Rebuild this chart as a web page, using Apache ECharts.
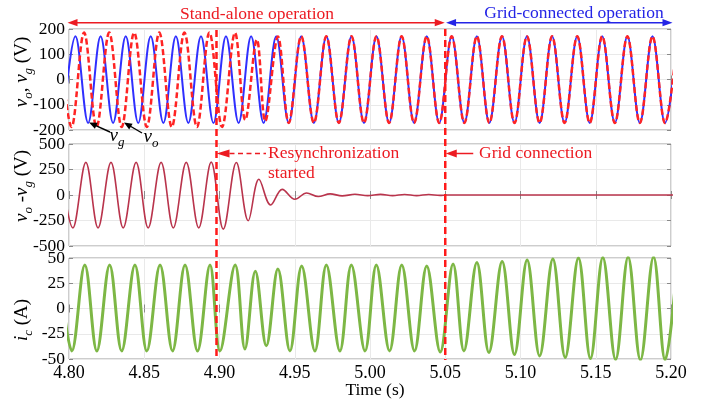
<!DOCTYPE html>
<html>
<head>
<meta charset="utf-8">
<script src="https://cdn.jsdelivr.net/npm/echarts@6/dist/echarts.min.js"></script>
<style>
  html, body { margin: 0; padding: 0; background: #fff; }
  #chart { width: 724px; height: 403px; }
</style>
</head>
<body>
<div id="chart"></div>
<script>
// time axis (s)
const timeMin = 4.80
const timeMax = 5.20
const timeStep = 0.05

// y ranges: [min, max, interval]
const vRange = [-200, 200, 100]
const dvRange = [-500, 500, 250]
const icRange = [-50, 50, 25]

// events
const resyncTime = 4.898
const gridTime = 5.05

// v_g (blue) peaks / troughs
const vgTime = [4.7960, 4.8043, 4.8127, 4.8210, 4.8293, 4.8377, 4.8460, 4.8543, 4.8627, 4.8710,
  4.8793, 4.8877, 4.8960, 4.9043, 4.9127, 4.9210, 4.9293, 4.9377, 4.9460, 4.9543,
  4.9627, 4.9710, 4.9793, 4.9877, 4.9960, 5.0043, 5.0127, 5.0210, 5.0293, 5.0377,
  5.0460, 5.0543, 5.0627, 5.0710, 5.0793, 5.0877, 5.0960, 5.1043, 5.1127, 5.1210,
  5.1293, 5.1377, 5.1460, 5.1543, 5.1627, 5.1710, 5.1793, 5.1877, 5.1960, 5.2043]
const vgVal = [-172, 171, -172, 171, -172, 171, -172, 171, -172, 171,
  -172, 171, -172, 171, -172, 171, -172, 171, -172, 171,
  -172, 171, -172, 171, -172, 171, -172, 171, -172, 171,
  -172, 171, -172, 171, -172, 171, -172, 171, -172, 171,
  -172, 171, -172, 171, -172, 171, -172, 171, -172, 171]

// v_o (red dashed)
const voTime = [4.7933, 4.8017, 4.8100, 4.8183, 4.8267, 4.8350, 4.8433, 4.8517, 4.8600, 4.8683,
  4.8767, 4.8850, 4.8933, 4.9017, 4.9103, 4.9171, 4.9248, 4.9304, 4.9388, 4.9460,
  4.9543, 4.9627, 4.9710, 4.9793, 4.9877, 4.9960, 5.0043, 5.0127, 5.0210, 5.0293,
  5.0377, 5.0460, 5.0543, 5.0627, 5.0710, 5.0793, 5.0877, 5.0960, 5.1043, 5.1127,
  5.1210, 5.1293, 5.1377, 5.1460, 5.1543, 5.1627, 5.1710, 5.1793, 5.1877, 5.1960, 5.2043]
const voVal = [186, -188, 186, -188, 186, -188, 186, -188, 186, -188,
  186, -188, 186, -188, 185, -160, 158, -165, 170, -172,
  171, -172, 171, -172, 171, -172, 171, -172, 171, -172,
  171, -172, 171, -172, 171, -172, 171, -172, 171, -172,
  171, -172, 171, -172, 171, -172, 171, -172, 171, -172, 171]

// v_o - v_g
const dvTime = [4.7942, 4.8026, 4.8112, 4.8193, 4.8279, 4.8360, 4.8446, 4.8526, 4.8612, 4.8693,
  4.8779, 4.8862, 4.8945, 4.9025, 4.9112, 4.9191, 4.9262, 4.9340, 4.9417, 4.9501,
  4.9579, 4.9656, 4.9735, 4.9815, 4.9900, 4.9985, 5.0070, 5.0150, 5.0230, 5.0310,
  5.0390, 5.0465, 5.0510, 5.2100]
const dvVal = [320, -322, 320, -322, 320, -322, 320, -322, 320, -322,
  320, -322, 322, -335, 318, -252, 154, -98, 55, -42,
  20, -15, 11, -9, 7, -6, 6, -6, 5, -6,
  5, -4, 0, 0]

// i_c
const icTime = [4.7934, 4.8019, 4.8105, 4.8185, 4.8270, 4.8350, 4.8438, 4.8517, 4.8605, 4.8688,
  4.8771, 4.8854, 4.8937, 4.9003, 4.9104, 4.9169, 4.9238, 4.9311, 4.9388, 4.9468,
  4.9546, 4.9634, 4.9710, 4.9800, 4.9876, 4.9967, 5.0042, 5.0130, 5.0211, 5.0296,
  5.0377, 5.0467, 5.0552, 5.0624, 5.0710, 5.0790, 5.0878, 5.0960, 5.1044, 5.1127,
  5.1215, 5.1297, 5.1385, 5.1465, 5.1547, 5.1632, 5.1715, 5.1797, 5.1884, 5.1961, 5.2044]
const icVal = [43, -42, 43, -42, 43, -42, 43, -42, 43, -42,
  43, -42, 43, -42, 43, -40, 37, -37, 39, -42,
  42, -42, 43, -42, 43, -42, 43, -42, 43, -42,
  42, -43, 44, -42, 45.5, -43.5, 46.5, -45.5, 48, -47,
  49, -48.5, 50, -49.5, 50.5, -50.5, 51, -51, 51, -51, 51]

const FONT = 'Liberation Serif'
const RED = '#ec1b22'
const BLUE = '#2424e6'

const pairs = (ts, vs) => ts.map((t, i) => [t, vs[i]])

const chart = echarts.init(document.getElementById('chart'))

const gridBoxes = [
  { top: 29, height: 101 },
  { top: 144, height: 102 },
  { top: 258, height: 101 }
]
const yRanges = [vRange, dvRange, icRange]

const grid = gridBoxes.map((g) => ({
  left: 69,
  right: 53,
  top: g.top,
  height: g.height,
  show: true,
  borderColor: '#9a9a9a',
  borderWidth: 1,
  backgroundColor: '#fff',
  containLabel: false,
  outerBoundsMode: 'none'
}))

const xAxis = []
const yAxis = []
for (let i = 0; i < 3; i++) {
  ;['bottom', 'top'].forEach((pos) => {
    xAxis.push({
      type: 'value',
      gridIndex: i,
      position: pos,
      min: timeMin,
      max: timeMax,
      interval: timeStep,
      axisLine: { show: false },
      axisTick: { show: true, inside: true, length: 4, lineStyle: { color: '#8a8a8a' } },
      axisLabel: {
        show: i === 2 && pos === 'bottom',
        fontFamily: FONT,
        fontSize: 18,
        color: '#000',
        margin: 5,
        formatter: (v) => v.toFixed(2)
      },
      splitLine: { show: pos === 'bottom', lineStyle: { color: '#e9e9e9' } }
    })
  })
  ;['left', 'right'].forEach((pos) => {
    yAxis.push({
      type: 'value',
      gridIndex: i,
      position: pos,
      min: yRanges[i][0],
      max: yRanges[i][1],
      interval: yRanges[i][2],
      axisLine: { show: false },
      axisTick: { show: true, inside: true, length: 4, lineStyle: { color: '#8a8a8a' } },
      axisLabel: {
        show: pos === 'left',
        fontFamily: FONT,
        fontSize: 17.5,
        color: '#000',
        margin: 4
      },
      splitLine: { show: pos === 'left', lineStyle: { color: '#e9e9e9' } }
    })
  })
}

const baseSeries = { type: 'line', symbol: 'none', smooth: 0.36, animation: false, silent: true }

chart.setOption({
  animation: false,
  backgroundColor: '#fff',
  grid: grid,
  xAxis: xAxis,
  yAxis: yAxis,
  series: [
    Object.assign({}, baseSeries, {
      name: 'vg', xAxisIndex: 0, yAxisIndex: 0, data: pairs(vgTime, vgVal),
      lineStyle: { color: '#2f2fff', width: 2 }, z: 2
    }),
    Object.assign({}, baseSeries, {
      name: 'vo', xAxisIndex: 0, yAxisIndex: 0, data: pairs(voTime, voVal),
      lineStyle: { color: '#ff2424', width: 2.5, type: [6, 3] }, z: 3
    }),
    Object.assign({}, baseSeries, {
      name: 'dv', xAxisIndex: 2, yAxisIndex: 2, data: pairs(dvTime, dvVal),
      lineStyle: { color: '#b9344c', width: 1.6 }
    }),
    Object.assign({}, baseSeries, {
      name: 'ic', xAxisIndex: 4, yAxisIndex: 4, data: pairs(icTime, icVal),
      lineStyle: { color: '#7db745', width: 3 }
    })
  ]
})

// annotations
const xOf = (t) => chart.convertToPixel({ seriesIndex: 0 }, [t, 0])[0]
const xr = xOf(resyncTime)
const xg = xOf(gridTime)
const x0 = xOf(timeMin)
const x1 = xOf(timeMax)

const head = (tx, ty, dx, dy, len, hw, color) => {
  const n = Math.sqrt(dx * dx + dy * dy)
  const ux = dx / n, uy = dy / n
  const bx = tx - ux * len, by = ty - uy * len
  return {
    type: 'polygon', silent: true, z: 20,
    shape: { points: [[tx, ty], [bx - uy * hw, by + ux * hw], [bx + uy * hw, by - ux * hw]] },
    style: { fill: color }
  }
}
const seg = (xa, ya, xb, yb, color, width, dash) => ({
  type: 'line', silent: true, z: 20,
  shape: { x1: xa, y1: ya, x2: xb, y2: yb },
  style: { stroke: color, lineWidth: width, lineDash: dash || null }
})
const label = (x, y, text, color, size, align) => ({
  type: 'text', silent: true, z: 21, x: x, y: y,
  style: { text: text, fill: color, fontFamily: FONT, fontSize: size, align: align || 'center', verticalAlign: 'middle' }
})

const rich = {
  i: { fontFamily: FONT, fontStyle: 'italic', fontSize: 19, lineHeight: 26, fill: '#000' },
  s: { fontFamily: FONT, fontStyle: 'italic', fontSize: 13, lineHeight: 14, verticalAlign: 'bottom', fill: '#000' },
  n: { fontFamily: FONT, fontSize: 19, lineHeight: 26, fill: '#000' }
}
const richText = (x, y, text, rot) => ({
  type: 'text', silent: true, z: 21, x: x, y: y, rotation: rot || 0,
  style: { text: text, rich: rich, align: 'center', verticalAlign: 'middle' }
})

const yTop = 22.7
const graphic = [
  // vertical dashed event lines
  seg(xr, 30, xr, 360, '#ff1a1a', 2.5, [7, 4]),
  seg(xg, 29, xg, 360, '#ff1a1a', 2.5, [7, 4]),
  // operation mode arrows
  seg(x0 + 6, yTop, xg - 6, yTop, RED, 1.5),
  head(x0 - 1.5, yTop, -1, 0, 10, 3.6, RED),
  head(xg - 0.5, yTop, 1, 0, 10, 3.6, RED),
  seg(xg + 6, yTop, x1 - 6, yTop, BLUE, 1.5),
  head(xg + 0.8, yTop, -1, 0, 10, 3.6, BLUE),
  head(x1 + 1.5, yTop, 1, 0, 10, 3.6, BLUE),
  label(257, 14, 'Stand-alone operation', RED, 17.5),
  label(574, 13, 'Grid-connected operation', BLUE, 17.5),
  // resync annotation
  head(xr, 153.5, -1, 0, 13, 4, RED),
  seg(xr + 13, 153.5, 266, 153.5, RED, 1.5, [5, 3.5]),
  label(268, 153, 'Resynchronization', RED, 17.5, 'left'),
  label(268, 173, 'started', RED, 17.5, 'left'),
  // grid connection annotation
  head(xg + 0.5, 153.5, -1, 0, 11, 4, RED),
  seg(xg + 10, 153.5, xg + 28, 153.5, RED, 1.5),
  label(479, 153, 'Grid connection', RED, 17.5, 'left'),
  // v_g / v_o pointers
  seg(110, 132, 93, 124.3, '#000', 1.4),
  head(89, 122.5, -19, -8.5, 8, 3.4, '#000'),
  seg(142, 133, 127.5, 124.5, '#000', 1.4),
  head(124, 122.5, -17, -10, 8, 3.4, '#000'),
  richText(117, 136, '{i|v}{s|g}'),
  richText(151, 137, '{i|v}{s|o}'),
  // axis names
  richText(22, 72, '{i|v}{s|o}{n|, }{i|v}{s|g}{n| (V)}', Math.PI / 2),
  richText(22, 186, '{i|v}{s|o}{n| -}{i|v}{s|g}{n| (V)}', Math.PI / 2),
  richText(22, 320, '{i|i}{s|c}{n| (A)}', Math.PI / 2),
  label(375, 390, 'Time (s)', '#000', 17.5)
]

chart.setOption({ graphic: graphic })
</script>
</body>
</html>
